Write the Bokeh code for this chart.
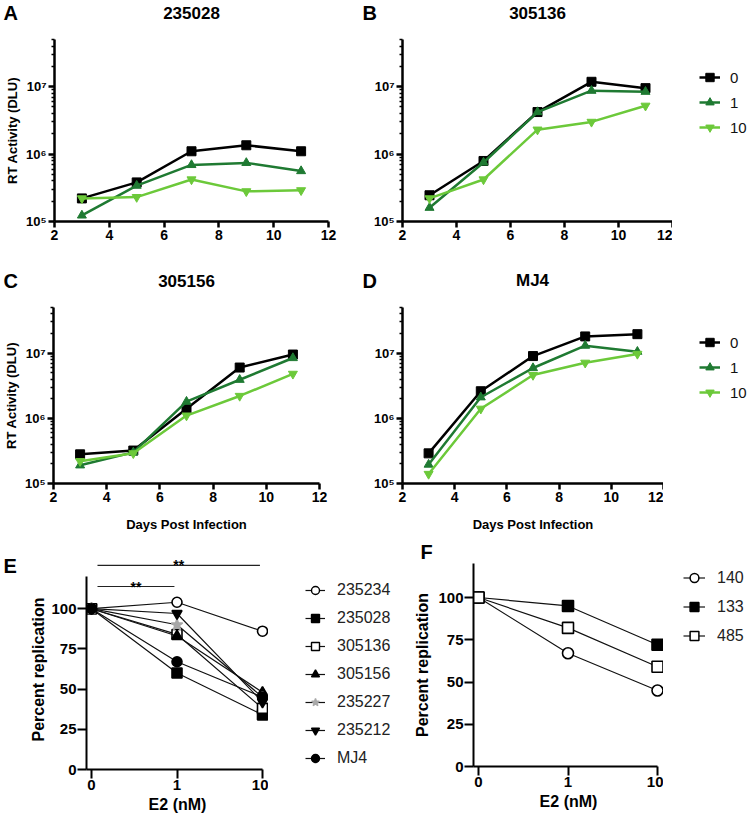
from bokeh.plotting import figure
from bokeh.layouts import column, row
from bokeh.models import (FixedTicker, CustomJSTickFormatter, Legend, LegendItem, Range1d,
                          Title)
from bokeh.core.properties import value
from bokeh.embed import file_html
from bokeh.resources import INLINE

FONT = "Liberation Sans"

# ---------------- data ----------------
days = [3, 5, 7, 9, 11]
dose_labels = ["0", "1", "10"]

a_0 = [2.2e5, 3.8e5, 1.1e6, 1.35e6, 1.1e6]
a_1 = [1.23e5, 3.4e5, 6.9e5, 7.4e5, 5.6e5]
a_10 = [2.2e5, 2.3e5, 4.2e5, 2.8e5, 2.9e5]

b_0 = [2.45e5, 7.9e5, 4.2e6, 1.18e7, 9.5e6]
b_1 = [1.6e5, 7.5e5, 4.2e6, 8.7e6, 8.4e6]
b_10 = [2.2e5, 4.2e5, 2.3e6, 3.0e6, 5.2e6]

c_0 = [2.8e5, 3.2e5, 1.4e6, 6.0e6, 9.5e6]
c_1 = [1.9e5, 3.0e5, 1.8e6, 3.9e6, 8.4e6]
c_10 = [2.2e5, 2.9e5, 1.1e6, 2.2e6, 4.8e6]

d_0 = [2.9e5, 2.6e6, 9.0e6, 1.8e7, 1.95e7]
d_1 = [1.95e5, 2.1e6, 5.9e6, 1.3e7, 1.05e7]
d_10 = [1.4e5, 1.4e6, 4.6e6, 7.1e6, 9.7e6]

panel_names = ["235028", "305136", "305156", "MJ4"]
panel_letters = ["A", "B", "C", "D", "E", "F"]

e2_doses = ["0", "1", "10"]

e_names = ["235234", "235028", "305136", "305156", "235227", "235212", "MJ4"]
e_235234 = [100, 104, 86]
e_235028 = [100, 60, 34]
e_305136 = [100, 84, 38]
e_305156 = [100, 83, 48]
e_235227 = [100, 90, 45]
e_235212 = [100, 97, 42]
e_MJ4 = [100, 67, 45]

sig_pairs = [("0", "1"), ("0", "10")]
sig_text = ["**", "**"]
sig_level = [113.8, 126.9]

f_names = ["140", "133", "485"]
f_140 = [100, 67, 45]
f_133 = [100, 95, 72]
f_485 = [100, 82, 59]

# ---------------- styles / geometry ----------------
BLACK = "#000000"
DKGREEN = "#1f7a32"
LTGREEN = "#6cc93a"
GRAY = "#a8a8a8"
dose_colors = [BLACK, DKGREEN, LTGREEN]
dose_markers = ["square", "triangle", "inverted_triangle"]
TOTAL_W = 748

SUP = "['\\u2070','\\u00b9','\\u00b2','\\u00b3','\\u2074','\\u2075','\\u2076','\\u2077','\\u2078','\\u2079']"
log_fmt_code = "const s=" + SUP + "; const e=Math.round(Math.log10(tick)); return '10'+s[e];"


def plain_fig(width, height, xr, yr, bl=0, bt=0, bb=0):
    p = figure(width=width, height=height, x_range=xr, y_range=yr,
               output_backend="svg", toolbar_location=None,
               x_axis_location=None, y_axis_location=None, min_border=0,
               min_border_left=bl, min_border_top=bt, min_border_bottom=bb)
    p.outline_line_color = None
    p.xgrid.visible = False
    p.ygrid.visible = False
    return p


def base_fig(width, height, bl, br, bt, bb, **kw):
    p = figure(width=width, height=height, output_backend="svg", toolbar_location=None,
               min_border_left=bl, min_border_right=br, min_border_top=bt,
               min_border_bottom=bb, **kw)
    p.outline_line_color = None
    p.xgrid.visible = False
    p.ygrid.visible = False
    return p


def text_strip(width, height, items, bl=0, bt=0, bb=0):
    """items: (x, y) measured from the frame's top-left corner"""
    fw, fh = width - bl, height - bt - bb
    p = plain_fig(width, height, Range1d(0, fw), Range1d(fh, 0), bl=bl, bt=bt, bb=bb)
    for x, y, t, size, align in items:
        p.text(x=[x], y=[y], text=[t], text_align=align, text_baseline="middle",
               text_font=value(FONT), text_font_style="bold", text_font_size=size,
               text_color="#000000")
    return p


def legend_fig(width, height, bl, bt, bb, margin, entries, glyph_w, row_h, spacing,
               standoff, font_size, color):
    """Key panel. entries: (label, x, y, line_kwargs, scatter_kwargs).
    The series lie outside the visible range; only the legend swatches show."""
    p = plain_fig(width, height, Range1d(-2, -1), Range1d(-2, -1), bl=bl, bt=bt, bb=bb)
    items = []
    for lab, x, y, lkw, skw in entries:
        l = p.line(x, y, **lkw)
        s = p.scatter(x, y, **skw)
        items.append(LegendItem(label=lab, renderers=[l, s]))
    leg = Legend(items=items, location="top_left", glyph_width=glyph_w, glyph_height=row_h,
                 label_height=row_h, label_standoff=standoff, spacing=spacing, padding=0,
                 margin=margin, border_line_color=None, background_fill_alpha=0,
                 label_text_font=FONT, label_text_font_size=font_size,
                 label_text_color=color)
    p.add_layout(leg)
    return p


def log_panel(series, width, height, bl, br, bt, bb, ylabel=None, xlabel=None):
    p = base_fig(width, height, bl, br, bt, bb, y_axis_type="log",
                 x_range=Range1d(2, 12), y_range=Range1d(1e5, 5e7))
    for ax in p.axis:
        ax.axis_line_width = 2.5
        ax.major_tick_line_width = 2.5
        ax.major_tick_out = 6
        ax.major_tick_in = 0
        ax.minor_tick_in = 0
        ax.minor_tick_out = 3
        ax.minor_tick_line_width = 1.5
        ax.major_label_text_font = FONT
        ax.major_label_text_font_style = "bold"
        ax.major_label_text_color = "#000000"
        ax.axis_label_text_font = FONT
        ax.axis_label_text_font_style = "bold"
        ax.axis_label_text_font_size = "13px"
        ax.axis_label_text_color = "#000000"
    p.xaxis.ticker = FixedTicker(ticks=list(range(2, 13, 2)))
    p.xaxis.minor_tick_line_color = None
    p.xaxis.major_label_text_font_size = "14px"
    p.xaxis.major_label_standoff = 2
    p.xaxis.axis_label_standoff = 12
    minors = [m * 10 ** e for e in (5, 6, 7) for m in range(2, 10) if m * 10 ** e <= 5e7]
    p.yaxis.ticker = FixedTicker(ticks=[1e5, 1e6, 1e7], minor_ticks=minors)
    p.yaxis.formatter = CustomJSTickFormatter(code=log_fmt_code)
    p.yaxis.major_label_text_font_size = "13px"
    p.yaxis.major_label_standoff = 2
    p.yaxis.axis_label_standoff = 3
    if ylabel:
        p.yaxis.axis_label = ylabel
    if xlabel:
        p.xaxis.axis_label = xlabel
    for vals, col, mk in zip(series, dose_colors, dose_markers):
        p.line(days, vals, line_color=col, line_width=2.5)
        p.scatter(days, vals, marker=mk, size=9, fill_color=col, line_color=col)
    return p


def dose_entries(series):
    return [(lab, days, vals, dict(line_color=c, line_width=2.5),
             dict(marker=m, size=9, fill_color=c, line_color=c))
            for lab, vals, c, m in zip(dose_labels, series, dose_colors, dose_markers)]


# row 1 (y 24..252): A frame x 54..328, y 39..221 ; B frame x 402..672
pA = log_panel([a_0, a_1, a_10], 360, 228, 54, 32, 15, 31, ylabel="RT Activity (DLU)")
pB = log_panel([b_0, b_1, b_10], 312, 228, 42, 0, 15, 31)
legB = legend_fig(76, 228, 0, 15, 31, 27, dose_entries([b_0, b_1, b_10]), 21, 22, 3, 10,
                  "15px", "#111111")
# row 2 (y 294..537): C frame x 53..319 ; D frame x 402..663 ; y 307..483
pC = log_panel([c_0, c_1, c_10], 360, 243, 53, 41, 13, 54,
               ylabel="RT Activity (DLU)", xlabel="Days Post Infection")
pD = log_panel([d_0, d_1, d_10], 303, 243, 42, 0, 13, 54, xlabel="Days Post Infection")
legD = legend_fig(85, 243, 12, 13, 54, 24, dose_entries([d_0, d_1, d_10]), 21, 22, 3, 10,
                  "15px", "#111111")

h1 = text_strip(TOTAL_W, 24, [(3, 12, panel_letters[0], "20px", "left"),
                              (191, 12, panel_names[0], "17px", "center"),
                              (362, 12, panel_letters[1], "20px", "left"),
                              (537, 12, panel_names[1], "17px", "center")])
h2 = text_strip(TOTAL_W, 42, [(3, 28, panel_letters[2], "20px", "left"),
                              (186, 28, panel_names[2], "17px", "center"),
                              (362, 28, panel_letters[3], "20px", "left"),
                              (532, 28, panel_names[3], "17px", "center")])


def lin_panel(width, height, bl, br, bt, bb, xr, yr):
    p = base_fig(width, height, bl, br, bt, bb, x_range=Range1d(*xr), y_range=Range1d(*yr))
    for ax in p.axis:
        ax.axis_line_width = 2
        ax.major_tick_line_width = 2
        ax.major_tick_out = 9
        ax.major_tick_in = 0
        ax.minor_tick_line_color = None
        ax.major_label_text_font = FONT
        ax.major_label_text_font_style = "bold"
        ax.major_label_text_font_size = "15px"
        ax.major_label_text_color = "#000000"
        ax.major_label_standoff = 1
        ax.axis_label_text_font = FONT
        ax.axis_label_text_font_style = "bold"
        ax.axis_label_text_font_size = "16px"
        ax.axis_label_text_color = "#000000"
        ax.axis_label_standoff = 4
    p.yaxis.bounds = (0, 120)
    p.xaxis.bounds = (xr[0], len(e2_doses) - 1)
    p.yaxis.ticker = FixedTicker(ticks=[0, 25, 50, 75, 100])
    p.xaxis.ticker = FixedTicker(ticks=list(range(len(e2_doses))))
    p.xaxis.major_label_overrides = {i: d for i, d in enumerate(e2_doses)}
    p.xaxis.axis_label = "E2 (nM)"
    p.xaxis.axis_label_standoff = 3
    # y title placed along the 0..120 axis extent
    axis_px = 120 * (height - bt - bb) / (yr[1] - yr[0])
    p.add_layout(Title(text="Percent replication", align="center", standoff=4,
                       offset=0, text_font=FONT, text_font_style="bold",
                       text_font_size="16px", text_color="#000000"), "left")
    return p, axis_px


xs = list(range(len(e2_doses)))

# ---------------- panel E : frame x 86..268 (x=0 at 91, 85.5 px/step), y 550..769 ----------------
pE = base_fig(248, 282, 66, 0, 13, 50, x_range=Range1d(-5 / 85.5, 177 / 85.5),
              y_range=Range1d(0, 219 / 1.608))
for ax in pE.axis:
    ax.axis_line_width = 2
    ax.major_tick_line_width = 2
    ax.major_tick_out = 9
    ax.major_tick_in = 0
    ax.minor_tick_line_color = None
    ax.major_label_text_font = FONT
    ax.major_label_text_font_style = "bold"
    ax.major_label_text_font_size = "15px"
    ax.major_label_text_color = "#000000"
    ax.major_label_standoff = 1
    ax.axis_label_text_font = FONT
    ax.axis_label_text_font_style = "bold"
    ax.axis_label_text_font_size = "16px"
    ax.axis_label_text_color = "#000000"
pE.yaxis.bounds = (0, 120)
pE.xaxis.bounds = (-5 / 85.5, len(e2_doses) - 1)
pE.yaxis.ticker = FixedTicker(ticks=[0, 25, 50, 75, 100])
pE.xaxis.ticker = FixedTicker(ticks=xs)
pE.xaxis.major_label_overrides = {i: d for i, d in enumerate(e2_doses)}
pE.xaxis.axis_label = "E2 (nM)"
pE.xaxis.axis_label_standoff = 3
pE.add_layout(Title(text="Percent replication", align="left", offset=28, standoff=4,
                    text_font=FONT, text_font_style="bold", text_font_size="16px",
                    text_color="#000000"), "left")

e_series = [e_235234, e_235028, e_305136, e_305156, e_235227, e_235212, e_MJ4]
e_markers = ["circle", "square", "square", "triangle", "star", "inverted_triangle", "circle"]
e_fill = ["white", BLACK, "white", BLACK, GRAY, BLACK, BLACK]
e_line = [BLACK, BLACK, BLACK, BLACK, GRAY, BLACK, BLACK]
e_size = [10, 10, 10, 10, 12, 10, 10]
for vals, mk, fc, lc, sz in zip(e_series, e_markers, e_fill, e_line, e_size):
    pE.line(xs, vals, line_color="#111111", line_width=1.2)
    pE.scatter(xs, vals, marker=mk, size=sz, fill_color=fc, line_color=lc, line_width=1.6)

for (a, b), txt, lvl in zip(sig_pairs, sig_text, sig_level):
    xa = e2_doses.index(a) + 0.07
    xb = e2_doses.index(b) - 0.03
    pE.segment(x0=[xa], y0=[lvl], x1=[xb], y1=[lvl], line_color="#222222", line_width=1.2)
    pE.text(x=[(xa + xb) / 2], y=[lvl], text=[txt], text_align="center",
            text_baseline="alphabetic", text_font=value(FONT), text_font_style="bold",
            text_font_size="14px", text_color="#000000")

e_entries = [(nm, xs, vals, dict(line_color="#111111", line_width=1.2),
              dict(marker=mk, size=sz - 2, fill_color=fc, line_color=lc, line_width=1.4))
             for nm, vals, mk, fc, lc, sz in zip(e_names, e_series, e_markers, e_fill,
                                                 e_line, e_size)]
# E key: x 268..395, y 563..819 (frame top 563), first swatch at x 305, top 578
legE = legend_fig(127, 256, 22, 0, 53, 15, e_entries, 20, 24, 4, 12, "16px", "#222222")

# ---------------- panel F : frame x 473..663 (x=0 at 478, 89.5 px/step), y 563..766 ----------------
pF = base_fig(268, 256, 78, 0, 0, 53, x_range=Range1d(-5 / 89.5, 185 / 89.5),
              y_range=Range1d(0, 203 / 1.69))
for ax in pF.axis:
    ax.axis_line_width = 2
    ax.major_tick_line_width = 2
    ax.major_tick_out = 9
    ax.major_tick_in = 0
    ax.minor_tick_line_color = None
    ax.major_label_text_font = FONT
    ax.major_label_text_font_style = "bold"
    ax.major_label_text_font_size = "15px"
    ax.major_label_text_color = "#000000"
    ax.major_label_standoff = 1
    ax.axis_label_text_font = FONT
    ax.axis_label_text_font_style = "bold"
    ax.axis_label_text_font_size = "16px"
    ax.axis_label_text_color = "#000000"
    ax.axis_label_standoff = 4
pF.yaxis.bounds = (0, 120)
pF.xaxis.bounds = (-5 / 89.5, len(e2_doses) - 1)
pF.yaxis.ticker = FixedTicker(ticks=[0, 25, 50, 75, 100])
pF.xaxis.ticker = FixedTicker(ticks=xs)
pF.xaxis.major_label_overrides = {i: d for i, d in enumerate(e2_doses)}
pF.xaxis.axis_label = "E2 (nM)"
pF.xaxis.axis_label_standoff = 3
pF.yaxis.axis_label = "Percent replication"

f_series = [f_140, f_133, f_485]
f_markers = ["circle", "square", "square"]
f_fill = ["white", BLACK, "white"]
for vals, mk, fc in zip(f_series, f_markers, f_fill):
    pF.line(xs, vals, line_color="#111111", line_width=1.2)
    pF.scatter(xs, vals, marker=mk, size=11, fill_color=fc, line_color=BLACK, line_width=1.6)
f_entries = [(nm, xs, vals, dict(line_color="#111111", line_width=1.2),
              dict(marker=mk, size=10, fill_color=fc, line_color=BLACK, line_width=1.5))
             for nm, vals, mk, fc in zip(f_names, f_series, f_markers, f_fill)]
# F key: x 663..748, y 537..819 (frame 550..769), first swatch at x 683, top 565
legF = legend_fig(85, 282, 5, 13, 50, 15, f_entries, 22, 25, 4, 12, "16px", "#222222")

letterE = text_strip(20, 282, [(3, 15, panel_letters[4], "20px", "left")], bt=13, bb=50)
# strip above the E key and panel F: x 268..663 (frame from 290), y 537..563
hF = text_strip(395, 26, [(130, 14, panel_letters[5], "20px", "left")], bl=22)

layout = column(h1, row(pA, pB, legB), h2, row(pC, pD, legD),
                row(letterE, pE, column(hF, row(legE, pF)), legF))

with open("out.html", "w", encoding="utf-8") as fh_:
    fh_.write(file_html(layout, INLINE))
